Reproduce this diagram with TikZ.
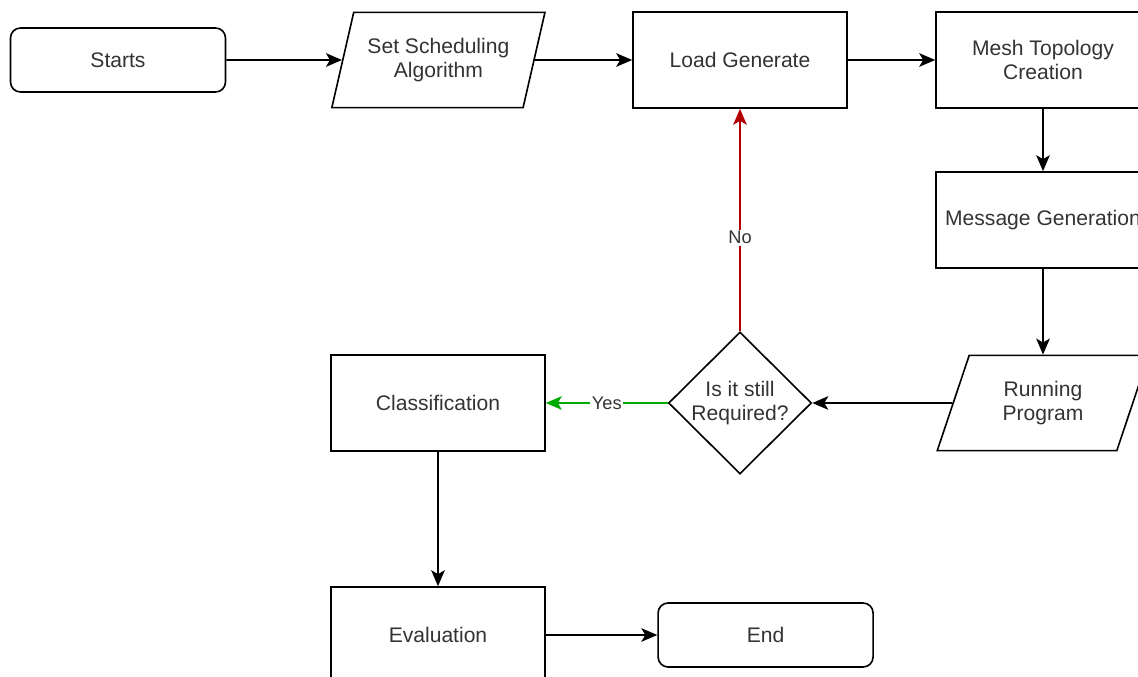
\documentclass[tikz,border=0pt]{standalone}
\usepackage{fontspec}
\setmainfont{Liberation Sans}
\usepackage{xcolor}
\usepackage{tikz}
\usetikzlibrary{arrows.meta,shapes.geometric,positioning}

\definecolor{noRed}{RGB}{178,0,0}
\definecolor{yesGreen}{RGB}{0,170,0}

\begin{document}
\begin{tikzpicture}[line width=1.15pt,
                    every node/.style={font=\fontsize{15}{17.5}\selectfont, text=black!80},
                    process/.style={draw, rectangle, minimum width=5.35cm, minimum height=2.4cm, align=center},
                    terminal/.style={draw, rectangle, rounded corners=0.25cm, minimum width=5.375cm, minimum height=1.6cm},
                    io/.style={draw, trapezium, trapezium left angle=70, trapezium right angle=110,
                               trapezium stretches=true, minimum width=5.33cm, minimum height=2.38cm, align=center},
                    decision/.style={draw, diamond, minimum width=3.575cm, minimum height=3.55cm,
                                     inner sep=0pt, align=center},
                    label/.style={font=\fontsize{13}{15}\selectfont, fill=white, inner sep=1pt}]
    %\draw[help lines] (0,-17) grid (29,0);
    \useasboundingbox (0,0) rectangle (28.45,-16.925);
    \clip (0,0) rectangle (28.45,-16.925);

    \node[terminal] (starts) at (2.95,-1.5) {Starts};
    \node[io] (set_scheduling) at (10.96,-1.5) {Set Scheduling\\Algorithm};
    \node[process] (load_generate) at (18.5,-1.5) {Load Generate};
    \node[process] (mesh_topology) at (26.075,-1.5) {Mesh Topology\\Creation};
    \node[process] (message_generation) at (26.075,-5.5) {Message Generation};
    \node[io] (running_program) at (26.075,-10.075) {Running\\Program};
    \node[decision] (still_required) at (18.5,-10.075) {Is it still\\Required?};
    \node[process] (classification) at (10.95,-10.075) {Classification};
    \node[process] (evaluation) at (10.95,-15.875) {Evaluation};
    \node[terminal] (end_node) at (19.14,-15.875) {End};

    % Define transitions
    \path[-{Stealth[length=4mm,width=3.4mm,inset=1mm]}]
    (starts)             edge                                    (set_scheduling)
    (set_scheduling)     edge                                    (load_generate)
    (load_generate)      edge                                    (mesh_topology)
    (mesh_topology)      edge                                    (message_generation)
    (message_generation) edge                                    (running_program)
    (running_program)    edge                                    (still_required)
    (still_required)     edge [draw=noRed]    node [label, pos=0.42] {No}  (load_generate)
                         edge [draw=yesGreen] node [label] {Yes}           (classification)
    (classification)     edge                                    (evaluation)
    (evaluation)         edge                                    (end_node);

\end{tikzpicture}
\end{document}
